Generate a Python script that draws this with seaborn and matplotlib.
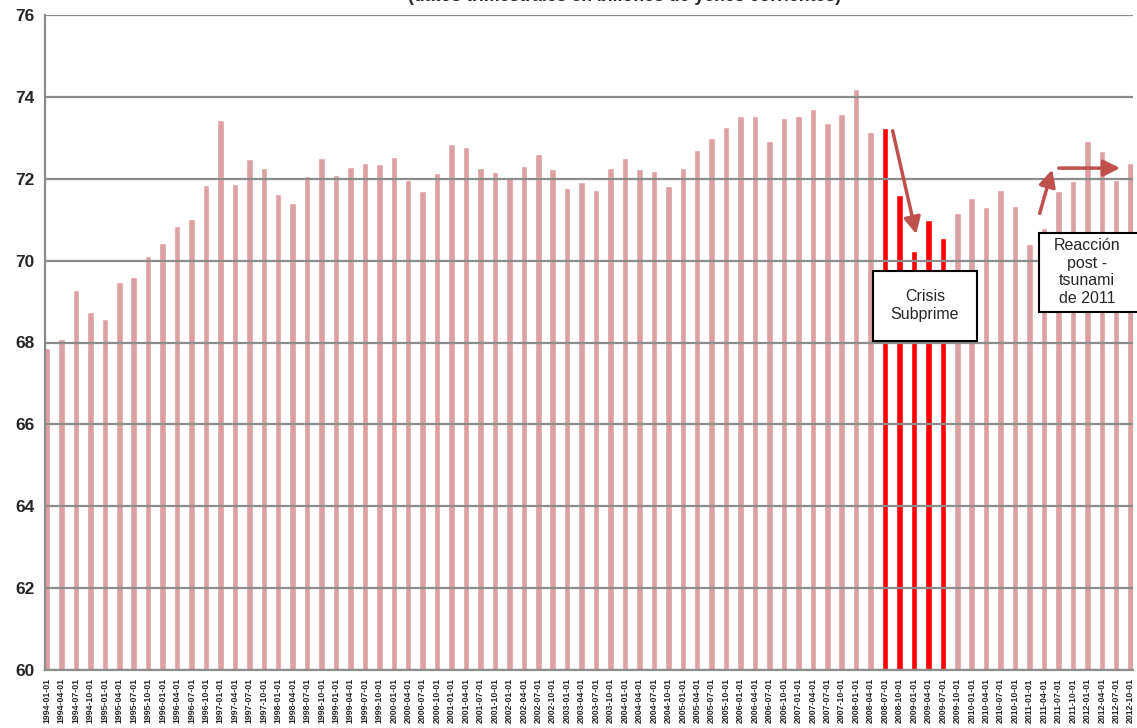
import matplotlib
matplotlib.use('Agg')
import matplotlib.pyplot as plt
import seaborn as sns
import pandas as pd
import numpy as np
from matplotlib.patches import Rectangle

# trimestres 1994Q1 - 2012Q4
quarters = pd.date_range('1994-01-01', periods=76, freq='QS').strftime('%Y-%m-%d').tolist()
values = [67.87, 68.09, 69.28, 68.75, 68.57, 69.48, 69.60, 70.11, 70.43, 70.85,
          71.02, 71.85, 73.44, 71.87, 72.48, 72.26, 71.63, 71.41, 72.07, 72.51,
          72.09, 72.29, 72.39, 72.36, 72.53, 71.97, 71.70, 72.14, 72.85, 72.78,
          72.26, 72.17, 72.04, 72.31, 72.60, 72.24, 71.77, 71.92, 71.73, 72.26,
          72.51, 72.24, 72.19, 71.82, 72.26, 72.70, 73.00, 73.26, 73.53, 73.53,
          72.92, 73.48, 73.53, 73.70, 73.36, 73.58, 74.19, 73.14, 73.24, 71.60,
          70.24, 70.99, 70.55, 71.16, 71.53, 71.31, 71.73, 71.33, 70.41, 70.80,
          71.70, 71.95, 72.92, 72.68, 71.97, 72.39]
crisis = ['2008-07-01', '2008-10-01', '2009-01-01', '2009-04-01', '2009-07-01']

df = pd.DataFrame({'quarter': quarters, 'value': values})
df['grupo'] = np.where(df['quarter'].isin(crisis), 'crisis', 'normal')

sns.set_style('white')
plt.rcParams['font.family'] = ['Liberation Sans', 'DejaVu Sans']

fig = plt.figure(figsize=(11.37, 7.28), dpi=100)
ax = fig.add_axes([45 / 1137, 58 / 728, 1088 / 1137, 655 / 728])
sns.barplot(data=df, x='quarter', y='value', hue='grupo',
            palette={'normal': '#DDA0A3', 'crisis': '#FF0000'},
            dodge=False, width=0.45, saturation=1, legend=False, ax=ax)

ax.set_ylim(60, 76)
ax.set_xlim(-0.14, 75.16)
ax.set_yticks(range(60, 77, 2))
ax.yaxis.grid(True, color='#8C8C8C', lw=1.6)
ax.xaxis.grid(False)
ax.set_axisbelow(False)
for s in ['top', 'right']:
    ax.spines[s].set_visible(False)
for s in ['left', 'bottom']:
    ax.spines[s].set_color('#8C8C8C')
    ax.spines[s].set_linewidth(1.6)
ax.set_xlabel('')
ax.set_ylabel('')
ax.tick_params(axis='both', length=4, width=1.5, color='#8C8C8C', direction='out')
ax.tick_params(axis='x', pad=2)
for lbl in ax.get_yticklabels():
    lbl.set_fontsize(12.5)
    lbl.set_fontweight('bold')
    lbl.set_family(['Liberation Sans Narrow', 'Liberation Sans'])
for lbl in ax.get_xticklabels():
    lbl.set_rotation(90)
    lbl.set_fontsize(6.3)
    lbl.set_fontweight('bold')
    lbl.set_family(['Liberation Sans Narrow', 'Liberation Sans'])

# flechas
arrow = dict(arrowstyle='-|>', color='#C0504D', lw=2.5, mutation_scale=25)
ax.annotate('', xy=(60.2, 70.58), xytext=(58.48, 73.24), arrowprops=arrow)
ax.annotate('', xy=(69.62, 72.29), xytext=(68.65, 71.09), arrowprops=arrow)
ax.annotate('', xy=(74.46, 72.26), xytext=(69.83, 72.26), arrowprops=arrow)

# cuadros de texto
ax.add_patch(Rectangle((57.16, 68.04), 7.2, 1.71, facecolor='white',
                       edgecolor='black', lw=1.5, zorder=5))
ax.text(60.76, 68.9, 'Crisis\nSubprime', ha='center', va='center',
        fontsize=11.5, zorder=6)
ax.add_patch(Rectangle((68.65, 68.75), 7.5, 1.93, facecolor='white',
                       edgecolor='black', lw=1.5, zorder=5, clip_on=False))
ax.text(71.97, 69.72, 'Reacción\npost -\ntsunami\nde 2011', ha='center',
        va='center', fontsize=11.5, zorder=6)

fig.text(0.549, 1 - 1 / 728, '(datos trimestrales en billones de yenes corrientes)',
         ha='center', va='baseline', fontsize=12.7, fontweight='bold')

fig.savefig('out.png', dpi=100, facecolor='white')
